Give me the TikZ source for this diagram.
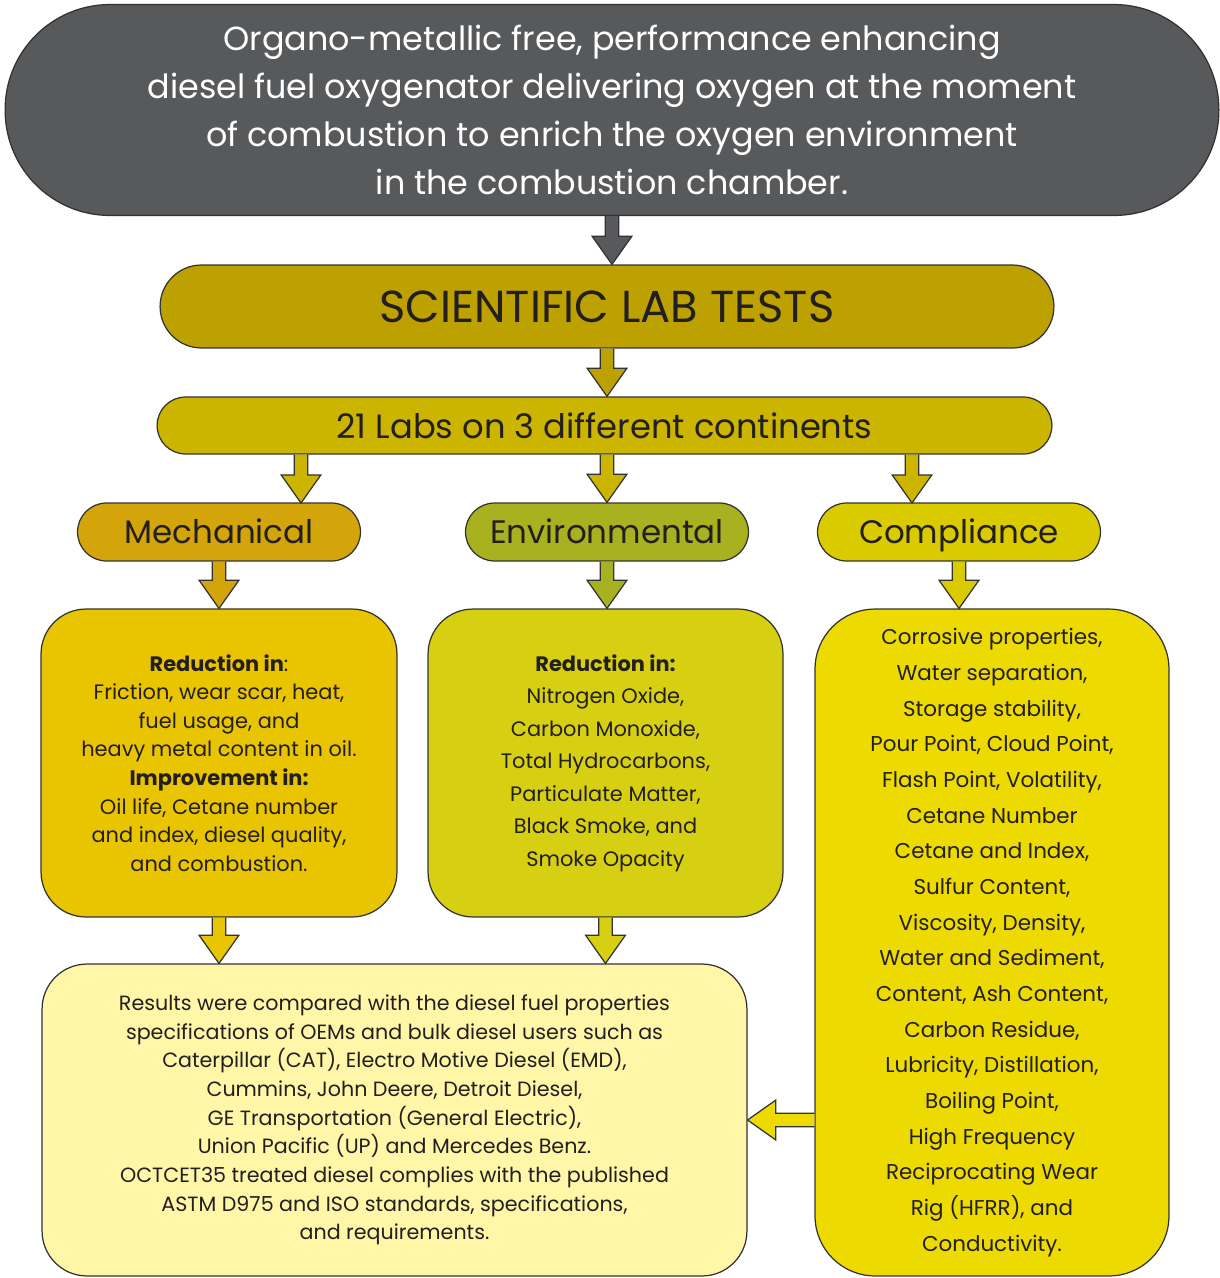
\documentclass[tikz,border=0pt]{standalone}
\usepackage{fontspec}
\setmainfont{Poppins}
\usetikzlibrary{calc}

\definecolor{edgegrey}{RGB}{50,50,52}
\definecolor{textdark}{RGB}{35,31,32}
\definecolor{topgrey}{RGB}{88,89,91}
\definecolor{labgold}{RGB}{189,161,0}
\definecolor{siteyellow}{RGB}{204,181,0}
\definecolor{mechgold}{RGB}{212,165,10}
\definecolor{envolive}{RGB}{168,178,32}
\definecolor{compyellow}{RGB}{217,203,0}
\definecolor{mechfill}{RGB}{233,196,0}
\definecolor{envfill}{RGB}{214,207,18}
\definecolor{compfill}{RGB}{236,218,0}
\definecolor{resultfill}{RGB}{255,246,168}

\tikzset{
  box/.style={draw=edgegrey, line width=0.7pt, inner sep=0pt, align=center, text=textdark},
  catbox/.style={box, minimum width=5.66cm, minimum height=1.16cm, rounded corners=0.58cm,
    font=\fontsize{18.5}{22}\selectfont, text height=15pt, text depth=2pt},
  listbox/.style={box, minimum width=7.1cm, minimum height=6.16cm, rounded corners=0.9cm},
  blockarrow/.style={draw=edgegrey, line width=0.7pt, line join=miter},
}

% block arrow #2 -> #3, filled with #1
\newcommand{\blockarrow}[3]{%
  \coordinate (ba-s) at #2;
  \coordinate (ba-t) at #3;
  \coordinate (ba-h) at ($(ba-t)!16pt!(ba-s)$);
  \filldraw[blockarrow, fill=#1]
    ($(ba-s)!3.8pt!90:(ba-t)$) -- ($(ba-h)!3.8pt!-90:(ba-s)$) -- ($(ba-h)!11.3pt!-90:(ba-s)$)
    -- (ba-t) -- ($(ba-h)!11.3pt!90:(ba-s)$) -- ($(ba-h)!3.8pt!90:(ba-s)$) -- ($(ba-s)!3.8pt!-90:(ba-t)$);
}

\begin{document}
\begin{tikzpicture}[x=0.02cm,y=-0.02cm]
  \useasboundingbox (0,0) rectangle (1220,1278);

  % product statement
  \node[box, fill=topgrey, text=white, minimum width=24.28cm, minimum height=4.22cm,
    rounded corners=2.1cm, font=\fontsize{19}{27.2}\selectfont] (top) at (612,110)
    {Organo-metallic free, performance enhancing\\
     diesel fuel oxygenator delivering oxygen at the moment\\
     of combustion to enrich the oxygen environment\\
     in the combustion chamber.};

  % lab tests
  \node[box, fill=labgold, minimum width=17.88cm, minimum height=1.66cm,
    rounded corners=0.83cm, font=\fontsize{25.5}{28}\selectfont] (tests) at (607,306.5)
    {SCIENTIFIC LAB TESTS};
  \node[box, fill=siteyellow, minimum width=17.9cm, minimum height=1.14cm,
    rounded corners=0.57cm, font=\fontsize{19.2}{22}\selectfont] (labs) at (604.5,425.5)
    {21 Labs on 3 different continents};

  % three kinds of tests
  \node[catbox, fill=mechgold] (mech) at (219,532) {Mechanical};
  \node[catbox, fill=envolive] (env) at (607,532) {Environmental};
  \node[catbox, fill=compyellow] (comp) at (959,532) {Compliance};

  % what was measured
  \node[listbox, fill=mechfill, minimum width=7.12cm, font=\fontsize{11.9}{16.3}\selectfont]
    (mechlist) at (219,763)
    {\textbf{Reduction in}:\\
     Friction, wear scar, heat,\\
     fuel usage, and\\
     heavy metal content in oil.\\
     \textbf{Improvement in:}\\
     Oil life, Cetane number\\
     and index, diesel quality,\\
     and combustion.};
  \node[listbox, fill=envfill, font=\fontsize{11.9}{18.5}\selectfont]
    (envlist) at (605.5,763)
    {\textbf{Reduction in:}\\
     Nitrogen Oxide,\\
     Carbon Monoxide,\\
     Total Hydrocarbons,\\
     Particulate Matter,\\
     Black Smoke, and\\
     Smoke Opacity};
  \node[box, fill=compfill, minimum width=7.08cm, minimum height=13.34cm,
    rounded corners=1.2cm, font=\fontsize{12.2}{20.3}\selectfont]
    (complist) at (992,942.5)
    {Corrosive properties,\\
     Water separation,\\
     Storage stability,\\
     Pour Point, Cloud Point,\\
     Flash Point, Volatility,\\
     Cetane Number\\
     Cetane and Index,\\
     Sulfur Content,\\
     Viscosity, Density,\\
     Water and Sediment,\\
     Content, Ash Content,\\
     Carbon Residue,\\
     Lubricity, Distillation,\\
     Boiling Point,\\
     High Frequency\\
     Reciprocating Wear\\
     Rig (HFRR), and\\
     Conductivity.};

  % results
  \node[box, fill=resultfill, minimum width=14.1cm, minimum height=6.24cm,
    rounded corners=0.9cm, font=\fontsize{11.75}{16.3}\selectfont]
    (results) at (394.5,1120)
    {Results were compared with the diesel fuel properties\\
     specifications of OEMs and bulk diesel users such as\\
     Caterpillar (CAT), Electro Motive Diesel (EMD),\\
     Cummins, John Deere, Detroit Diesel,\\
     GE Transportation (General Electric),\\
     Union Pacific (UP) and Mercedes Benz.\\
     OCTCET35 treated diesel complies with the published\\
     ASTM D975 and ISO standards, specifications,\\
     and requirements.};

  % arrows
  \coordinate (mechin) at (301,503);
  \coordinate (compin) at (912,503);
  \blockarrow{topgrey}{(top.south)}{(top.south |- tests.north)}
  \blockarrow{labgold}{(tests.south)}{(tests.south |- labs.north)}
  \blockarrow{siteyellow}{(labs.south -| mechin)}{(mechin)}
  \blockarrow{siteyellow}{(labs.south -| env.north)}{(env.north)}
  \blockarrow{siteyellow}{(labs.south -| compin)}{(compin)}
  \blockarrow{mechgold}{(mech.south)}{(mech.south |- mechlist.north)}
  \blockarrow{envolive}{(env.south)}{(env.south |- envlist.north)}
  \blockarrow{compyellow}{(comp.south)}{(comp.south |- complist.north)}
  \blockarrow{mechfill}{(mechlist.south)}{(mechlist.south |- results.north)}
  \blockarrow{envfill}{(envlist.south)}{(envlist.south |- results.north)}
  \blockarrow{compfill}{(results.east -| complist.west)}{(results.east)}
\end{tikzpicture}
\end{document}
